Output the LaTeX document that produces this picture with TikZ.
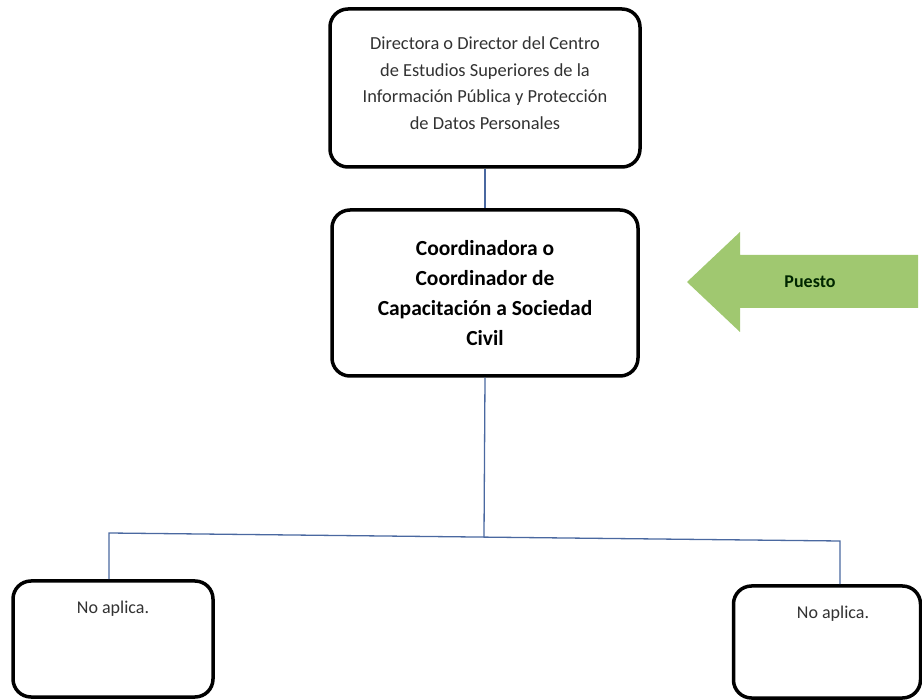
\documentclass[tikz,border=0pt]{standalone}
\usepackage{fontspec}
\setmainfont{Carlito}
\usepackage{xcolor}
\usetikzlibrary{positioning}

\definecolor{linkblue}{RGB}{74,104,160}
\definecolor{puestogreen}{RGB}{160,200,112}
\definecolor{textgray}{RGB}{50,50,50}

\begin{document}
\begin{tikzpicture}[
  x=1pt, y=-1pt,
  chartbox/.style={draw=black, line width=3.5pt, rounded corners=18pt, fill=white, align=center},
  link/.style={draw=linkblue, line width=1.3pt},
  leaftext/.style={inner sep=0pt, text=textgray, font=\fontsize{18}{20}\selectfont}
]
\useasboundingbox (0,0) rectangle (922,700);

\node[chartbox, minimum width=310pt, minimum height=158pt, text=textgray,
      font=\fontsize{18.4}{26.5}\selectfont] (dir) at (485,88) {};
\node[align=center, text=textgray, font=\fontsize{18.4}{26.5}\selectfont] (dirtxt) at (485,83)
  {Directora o Director del Centro\\de Estudios Superiores de la\\Información Pública y Protección\\de Datos Personales};

\node[chartbox, minimum width=306pt, minimum height=166pt,
      font=\fontsize{21.5}{30}\selectfont\bfseries] (coord) at (485,293)
  {Coordinadora o\\Coordinador de\\Capacitación a Sociedad\\Civil};

\node[chartbox, minimum width=200pt, minimum height=116pt] (na1) at (113,639) {};
\node[chartbox, minimum width=187pt, minimum height=112pt] (na2) at (827,642) {};
\node[leaftext, below=22pt of na1.north] (na1txt) {No aplica.};
\node[leaftext, below=22pt of na2.north, xshift=6pt] (na2txt) {No aplica.};

% puesto arrow
\fill[puestogreen] (918,255) -- (740,255) -- (740,232) -- (687,282)
  -- (740,332) -- (740,308) -- (918,308) -- cycle;
\node[font=\fontsize{18}{20}\selectfont\bfseries, text=black!85!green] (puesto) at (810,282) {Puesto};

\coordinate (bus) at (484,537);
\coordinate (busL) at (109,533);
\coordinate (busR) at (840,541);
\draw[link] (dir.south) -- (coord.north);
\draw[link] (coord.south) -- (bus);
\draw[link] (busL |- na1.north) -- (busL) -- (busR) -- (busR |- na2.north);
\end{tikzpicture}
\end{document}
